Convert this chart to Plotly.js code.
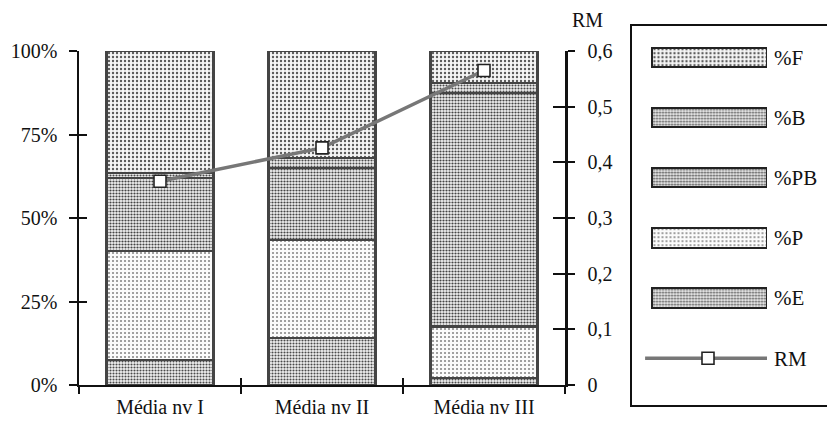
<!DOCTYPE html>
<html>
<head>
<meta charset="utf-8">
<script src="https://cdn.plot.ly/plotly-3.0.1.min.js"></script>
<style>html,body{margin:0;padding:0;background:#fff}#chart{width:827px;height:431px}</style>
</head>
<body>
<div id="chart"></div>
<script>
// ---- data ----
const categories = ['Média nv I', 'Média nv II', 'Média nv III'];
const seriesNames = ['%E', '%P', '%PB', '%B', '%F']; // stacked bottom -> top
const pctE  = [7.5, 14.0, 2.0];
const pctP  = [32.7, 29.5, 15.5];
const pctPB = [21.8, 21.5, 70.0];
const pctB  = [1.5, 3.0, 3.0];
const pctF  = [36.5, 32.0, 9.5];
const rm    = [0.366, 0.426, 0.565];
const leftTickVals = [0, 25, 50, 75, 100];
const leftTickText = ['0%', '25%', '50%', '75%', '100%'];
const rightTickVals = [0, 0.1, 0.2, 0.3, 0.4, 0.5, 0.6];
const rightTickText = ['0', '0,1', '0,2', '0,3', '0,4', '0,5', '0,6'];
const legendOrder = ['RM', '%E', '%P', '%PB', '%B', '%F']; // bottom -> top

// ---- styles ----
const FONT = "'Liberation Serif', 'Times New Roman', serif";
const patterns = {
  '%E':  {shape: '.', fgcolor: '#4a4a4a', bgcolor: '#f2f2f2', size: 3, solidity: 0.38},
  '%P':  {shape: '.', fgcolor: '#8a8a8a', bgcolor: '#fbfbfb', size: 4, solidity: 0.22},
  '%PB': {shape: '.', fgcolor: '#444444', bgcolor: '#f2f2f2', size: 3, solidity: 0.42},
  '%B':  {shape: '.', fgcolor: '#4a4a4a', bgcolor: '#f2f2f2', size: 3, solidity: 0.38},
  '%F':  {shape: '.', fgcolor: '#5a5a5a', bgcolor: '#f6f6f6', size: 4, solidity: 0.28}
};
const values = {'%E': pctE, '%P': pctP, '%PB': pctPB, '%B': pctB, '%F': pctF};
const barLine = {color: '#444444', width: 2.2};

const W = 827, H = 431;
const px = v => v / W;
const py = v => 1 - v / H;

const traces = [];
seriesNames.forEach(name => {
  traces.push({
    type: 'bar', name: name, x: categories, y: values[name],
    width: 0.66, xaxis: 'x', yaxis: 'y', showlegend: false, hoverinfo: 'skip',
    marker: {color: patterns[name].bgcolor, pattern: patterns[name], line: barLine}
  });
});
// empty helper traces so the overlay tick axes are drawn
traces.push({type: 'scatter', x: [], y: [], xaxis: 'x', yaxis: 'y4', showlegend: false, hoverinfo: 'skip'});
traces.push({type: 'scatter', x: [], y: [], xaxis: 'x', yaxis: 'y5', showlegend: false, hoverinfo: 'skip'});
traces.push({type: 'scatter', x: [], y: [], xaxis: 'x2', yaxis: 'y', showlegend: false, hoverinfo: 'skip'});
traces.push({
  type: 'scatter', mode: 'lines+markers', name: 'RM', x: categories, y: rm,
  xaxis: 'x', yaxis: 'y2', showlegend: false, hoverinfo: 'skip',
  line: {color: '#777777', width: 3.5},
  marker: {symbol: 'square', size: 12, color: '#ffffff', line: {color: '#222', width: 1.6}}
});

// legend keys (drawn in their own small axes)
['%F', '%B', '%PB', '%P', '%E'].forEach(name => {
  traces.push({
    type: 'bar', orientation: 'h', x: [1], y: [name], base: 0, width: 0.32,
    xaxis: 'x3', yaxis: 'y3', showlegend: false, hoverinfo: 'skip',
    marker: {color: patterns[name].bgcolor, pattern: patterns[name], line: {color: '#222', width: 2}}
  });
});
traces.push({
  type: 'scatter', mode: 'lines', x: [-0.06, 1], y: ['RM', 'RM'],
  xaxis: 'x3', yaxis: 'y3', showlegend: false, hoverinfo: 'skip',
  line: {color: '#777777', width: 3.5}
});
traces.push({
  type: 'scatter', mode: 'markers', x: [0.487], y: ['RM'],
  xaxis: 'x3', yaxis: 'y3', showlegend: false, hoverinfo: 'skip',
  marker: {symbol: 'square', size: 12, color: '#ffffff', line: {color: '#222', width: 1.6}}
});

const tickFont = {family: FONT, size: 20, color: '#111'};
const legFont = {family: FONT, size: 21, color: '#111'};
const layout = {
  width: W, height: H,
  margin: {l: 0, r: 0, t: 0, b: 0},
  paper_bgcolor: '#fff', plot_bgcolor: 'rgba(0,0,0,0)',
  barmode: 'stack', showlegend: false,
  font: {family: FONT, size: 20, color: '#111'},
  xaxis: {
    type: 'category', categoryarray: categories, range: [-0.5, 2.5],
    domain: [px(79), px(565)], anchor: 'y',
    tickson: 'boundaries', ticks: 'outside', ticklen: 7, tickwidth: 2, tickcolor: '#111',
    showline: true, linecolor: '#111', linewidth: 2, showgrid: false, zeroline: false,
    tickfont: tickFont, ticklabelstandoff: 3, fixedrange: true
  },
  xaxis2: {
    overlaying: 'x', anchor: 'y', range: [-0.5, 2.5], domain: [px(79), px(565)],
    tickvals: [-0.5, 0.5, 1.5, 2.5], ticks: 'inside', ticklen: 7, tickwidth: 2, tickcolor: '#111',
    showticklabels: false, showline: false, showgrid: false, zeroline: false, fixedrange: true
  },
  yaxis: {
    range: [0, 100], domain: [py(385), py(51)], anchor: 'x',
    tickvals: leftTickVals, ticktext: leftTickText,
    ticks: 'outside', ticklen: 8, tickwidth: 2, tickcolor: '#111',
    showline: true, linecolor: '#111', linewidth: 2.5, showgrid: false, zeroline: false,
    tickfont: tickFont, ticklabelstandoff: 7, fixedrange: true
  },
  yaxis4: {
    overlaying: 'y', anchor: 'x', range: [0, 100], side: 'left',
    tickvals: leftTickVals, ticks: 'inside', ticklen: 8, tickwidth: 2, tickcolor: '#111',
    showticklabels: false, showline: false, showgrid: false, zeroline: false, fixedrange: true
  },
  yaxis2: {
    overlaying: 'y', side: 'right', anchor: 'x', range: [0, 0.6],
    tickvals: rightTickVals, ticktext: rightTickText,
    ticks: 'outside', ticklen: 7, tickwidth: 2, tickcolor: '#111',
    showline: true, linecolor: '#111', linewidth: 2.5, showgrid: false, zeroline: false,
    tickfont: tickFont, ticklabelstandoff: 9, fixedrange: true
  },
  yaxis5: {
    overlaying: 'y', side: 'right', anchor: 'x', range: [0, 0.6],
    tickvals: rightTickVals, ticks: 'inside', ticklen: 12, tickwidth: 2, tickcolor: '#111',
    showticklabels: false, showline: false, showgrid: false, zeroline: false, fixedrange: true
  },
  xaxis3: {
    range: [-0.1, 1], domain: [px(640.5), px(767)], anchor: 'y3',
    visible: false, fixedrange: true
  },
  yaxis3: {
    type: 'category', categoryarray: legendOrder, range: [-0.5, 5.5],
    domain: [py(388.4), py(27.2)], anchor: 'x3', side: 'right',
    showline: false, ticks: '', showgrid: false, zeroline: false,
    tickfont: legFont, ticklabelstandoff: 6, fixedrange: true
  },
  shapes: [
    {type: 'rect', xref: 'paper', yref: 'paper', x0: px(631), x1: 1.01, y0: py(406), y1: py(25),
     line: {color: '#111', width: 2}, fillcolor: 'rgba(0,0,0,0)', layer: 'below'}
  ],
  annotations: [
    {text: 'RM', xref: 'paper', yref: 'paper', x: px(587), y: py(20), xanchor: 'center', yanchor: 'middle',
     showarrow: false, font: tickFont}
  ]
};

Plotly.newPlot('chart', traces, layout, {displayModeBar: false, staticPlot: true});
</script>
</body>
</html>
